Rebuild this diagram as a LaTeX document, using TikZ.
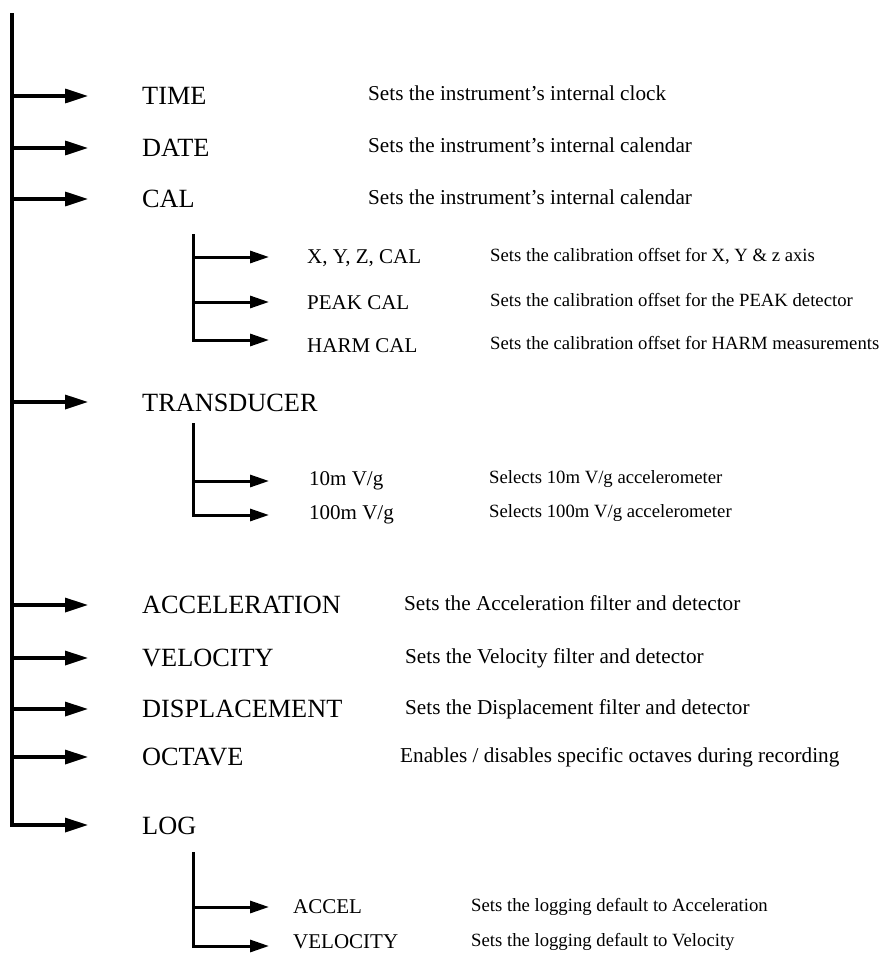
\documentclass[tikz,border=0pt]{standalone}
\usepackage{fontspec}
\setmainfont{Liberation Serif}
\usetikzlibrary{arrows.meta}

% text is placed by its baseline, shifted so that the capitals sit centred on the given y
\tikzset{
  trunk/.style={line width=3.3pt, line cap=rect},
  subtrunk/.style={line width=3pt, line cap=rect},
  mainarrow/.style={line width=3.3pt, -{Triangle[length=23pt,width=14pt]}},
  subarrow/.style={line width=3pt, -{Triangle[length=19pt,width=12pt]}},
  mainlabel/.style={anchor=base west, inner sep=0pt, yshift=-8.7pt, font=\fontsize{26.3}{28}\selectfont},
  maindesc/.style={anchor=base west, inner sep=0pt, yshift=-7pt, font=\fontsize{21.2}{23}\selectfont},
  sublabel/.style={anchor=base west, inner sep=0pt, yshift=-7pt, font=\fontsize{21}{23}\selectfont},
  subdesc/.style={anchor=base west, inner sep=0pt, yshift=-6.2pt, font=\fontsize{18.7}{20}\selectfont},
}

\begin{document}
\begin{tikzpicture}[x=1pt,y=-1pt]
\useasboundingbox (0,0) rectangle (882,963);

% main menu trunk
\coordinate (top) at (12,15);
\foreach \n/\y in {time/96,date/148,cal/199,trans/402,acc/605,vel/658,disp/709,oct/757,log/825}{
  \coordinate (j-\n) at (12,\y);
  \coordinate (e-\n) at (88,\y);
}
\draw[trunk] (top) -- (j-log);
\foreach \n in {time,date,cal,trans,acc,vel,disp,oct,log}{
  \draw[mainarrow] (j-\n) -- (e-\n);
}

% main menu entries
\node[mainlabel] (l-time)  at (142,96)  {TIME};
\node[mainlabel] (l-date)  at (142,148) {DATE};
\node[mainlabel] (l-cal)   at (142,199) {CAL};
\node[mainlabel] (l-trans) at (142,403) {TRANSDUCER};
\node[mainlabel] (l-acc)   at (142,605) {ACCELERATION};
\node[mainlabel] (l-vel)   at (142,658) {VELOCITY};
\node[mainlabel] (l-disp)  at (142,709) {DISPLACEMENT};
\node[mainlabel] (l-oct)   at (142,757) {OCTAVE};
\node[mainlabel] (l-log)   at (142,826) {LOG};

\node[maindesc] (d-time) at (368,94)  {Sets the instrument’s internal clock};
\node[maindesc] (d-date) at (368,146) {Sets the instrument’s internal calendar};
\node[maindesc] (d-cal)  at (368,197) {Sets the instrument’s internal calendar};
\node[maindesc] (d-acc)  at (404,603) {Sets the Acceleration filter and detector};
\node[maindesc] (d-vel)  at (405,656) {Sets the Velocity filter and detector};
\node[maindesc] (d-disp) at (405,707) {Sets the Displacement filter and detector};
\node[maindesc] (d-oct)  at (400,755) {Enables / disables specific octaves during recording};

% CAL submenu
\coordinate (c-top) at (193,235);
\foreach \n/\y in {xyz/257,peak/302,harm/340}{
  \coordinate (cj-\n) at (193,\y);
  \coordinate (ce-\n) at (269,\y);
}
\draw[subtrunk] (c-top) -- (cj-harm);
\foreach \n in {xyz,peak,harm}{ \draw[subarrow] (cj-\n) -- (ce-\n); }
\node[sublabel] (l-xyz)  at (307,256) {X, Y, Z, CAL};
\node[sublabel] (l-peak) at (307,302) {PEAK CAL};
\node[sublabel] (l-harm) at (307,345) {HARM CAL};
\node[subdesc] (d-xyz)  at (490,255) {Sets the calibration offset for X, Y \& z axis};
\node[subdesc] (d-peak) at (490,300) {Sets the calibration offset for the PEAK detector};
\node[subdesc] (d-harm) at (490,343) {Sets the calibration offset for HARM measurements};

% TRANSDUCER submenu
\coordinate (t-top) at (193,424);
\foreach \n/\y in {ten/481,hund/515}{
  \coordinate (tj-\n) at (193,\y);
  \coordinate (te-\n) at (269,\y);
}
\draw[subtrunk] (t-top) -- (tj-hund);
\foreach \n in {ten,hund}{ \draw[subarrow] (tj-\n) -- (te-\n); }
\node[sublabel] (l-ten)  at (309,478) {10m V/g};
\node[sublabel] (l-hund) at (309,512) {100m V/g};
\node[subdesc] (d-ten)  at (489,477) {Selects 10m V/g accelerometer};
\node[subdesc] (d-hund) at (489,511) {Selects 100m V/g accelerometer};

% LOG submenu
\coordinate (g-top) at (193,853);
\foreach \n/\y in {accel/907,velo/946}{
  \coordinate (gj-\n) at (193,\y);
  \coordinate (ge-\n) at (269,\y);
}
\draw[subtrunk] (g-top) -- (gj-velo);
\foreach \n in {accel,velo}{ \draw[subarrow] (gj-\n) -- (ge-\n); }
\node[sublabel] (l-accel) at (293,906) {ACCEL};
\node[sublabel] (l-velo)  at (293,941) {VELOCITY};
\node[subdesc] (d-accel) at (471,905) {Sets the logging default to Acceleration};
\node[subdesc] (d-velo)  at (471,940) {Sets the logging default to Velocity};
\end{tikzpicture}
\end{document}
